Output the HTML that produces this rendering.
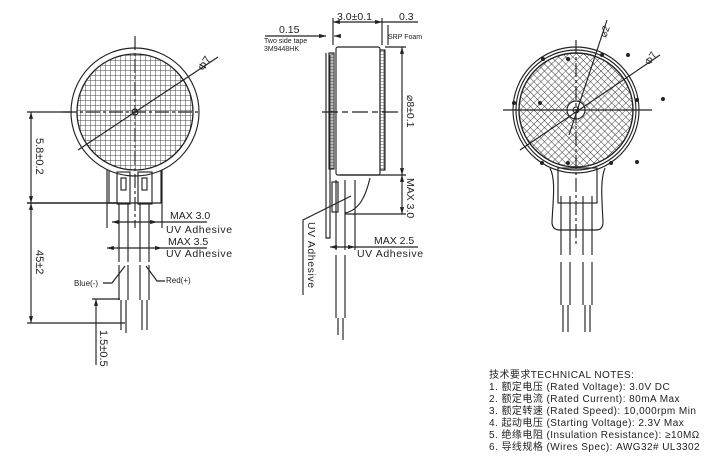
<!DOCTYPE html>
<html><head><meta charset="utf-8"><style>
html,body{margin:0;padding:0;background:#fff;}
svg{display:block;}
text{font-family:"Liberation Sans","Noto Sans CJK SC",sans-serif;fill:#222;}
</style></head><body>
<svg width="722" height="467" viewBox="0 0 722 467" xmlns="http://www.w3.org/2000/svg">
<defs>
<pattern id="grid" width="5" height="5" patternUnits="userSpaceOnUse" x="0" y="0">
<path d="M0 0H5M0 0V5" stroke="#444" stroke-width="1" fill="none"/>
</pattern>
<pattern id="xh" width="5" height="5" patternUnits="userSpaceOnUse" patternTransform="rotate(45)">
<path d="M0 0H5M0 0V5" stroke="#333" stroke-width="0.9" fill="none"/>
</pattern>
<pattern id="hs" width="4" height="3" patternUnits="userSpaceOnUse">
<path d="M0 0H4M0 0V3M4 0V3" stroke="#333" stroke-width="0.7" fill="none"/>
</pattern>
<marker id="a" viewBox="0 0 10 10" refX="10" refY="5" markerWidth="6" markerHeight="6" orient="auto-start-reverse"><path d="M0 2L10 5L0 8z" fill="#222"/></marker>
</defs>
<g stroke="#222" stroke-width="1.15" fill="none">
<!-- LEFT VIEW -->
<circle cx="135" cy="112" r="64"/>
<circle cx="135" cy="112" r="58" fill="url(#grid)" stroke-width="1.3"/>
<circle cx="135" cy="112" r="3"/>
<line x1="135" y1="36" x2="135" y2="228" stroke-dasharray="14 3 3 3"/>
<line x1="63" y1="112" x2="199" y2="112" stroke-dasharray="14 3 3 3"/>
<line x1="78" y1="150" x2="218" y2="57"/>
<path d="M107 170 V228 M162 170 V228" />
<path d="M109 171 V203 H161 V171"/>
<rect x="117" y="172" width="13" height="32"/>
<rect x="138" y="172" width="14" height="32"/>
<rect x="121" y="178" width="5" height="12"/>
<rect x="142" y="178" width="5" height="12"/>
<path d="M119 204 V262 M128 204 V262 M140 204 V262 M149 204 V262"/>
<path d="M119 265 V300 M128 265 V300 M140 265 V300 M149 265 V300"/>
<path d="M121 300 V330 M126 300 V333 M142 300 V330 M147 300 V330"/>
<!-- dims left -->
<line x1="31" y1="112" x2="31" y2="203" marker-start="url(#a)" marker-end="url(#a)"/>
<line x1="31" y1="203" x2="31" y2="323" marker-start="url(#a)" marker-end="url(#a)"/>
<line x1="27" y1="112" x2="72" y2="112"/>
<line x1="27" y1="203" x2="118" y2="203" stroke-width="1.4"/>
<line x1="27" y1="323" x2="125" y2="323"/>
<line x1="92" y1="299" x2="120" y2="299"/>
<line x1="96" y1="299" x2="96" y2="365" marker-start="url(#a)"/>
<line x1="112" y1="222" x2="157" y2="222" marker-start="url(#a)" marker-end="url(#a)"/>
<line x1="157" y1="222" x2="207" y2="222"/>
<line x1="107" y1="248" x2="162" y2="248" marker-start="url(#a)" marker-end="url(#a)"/>
<line x1="162" y1="248" x2="207" y2="248"/>
<path d="M103 283 H112 L125 266"/>
<path d="M165 281 H157 L146 266"/>
<!-- MIDDLE VIEW -->
<rect x="336" y="47" width="44" height="128" rx="2"/>
<rect x="380" y="50" width="5" height="120" fill="url(#hs)"/>
<rect x="329" y="53" width="5" height="116" fill="url(#hs)"/>
<path d="M326 53 V238 H330 V55"/>
<line x1="322" y1="112" x2="398" y2="112" stroke-dasharray="16 4 6 4"/>
<line x1="385" y1="47" x2="406" y2="47"/>
<line x1="340" y1="175" x2="406" y2="175"/>
<line x1="345" y1="214" x2="406" y2="214"/>
<line x1="402" y1="47" x2="402" y2="175" marker-start="url(#a)" marker-end="url(#a)"/>
<line x1="402" y1="175" x2="402" y2="214" marker-start="url(#a)" marker-end="url(#a)"/>
<path d="M370 178 C366 195 360 210 345 213"/>
<path d="M336 180 V250 M345 180 V250 M336 255 V318 M345 255 V318 M338 318 V335 M343 318 V340"/>
<rect x="332" y="182" width="6" height="30"/>
<line x1="330" y1="247" x2="355" y2="247" marker-start="url(#a)" marker-end="url(#a)"/>
<line x1="355" y1="247" x2="418" y2="247"/>
<line x1="355" y1="180" x2="355" y2="250"/>
<path d="M303 295 V220 L351 196"/>
<line x1="333" y1="22" x2="382" y2="22" marker-start="url(#a)" marker-end="url(#a)"/>
<line x1="382" y1="22" x2="418" y2="22"/>
<line x1="333" y1="18" x2="333" y2="45"/><line x1="382" y1="18" x2="382" y2="45"/>
<line x1="388" y1="25" x2="388" y2="45"/>
<line x1="265" y1="36" x2="326" y2="36"/>
<line x1="320" y1="36" x2="326" y2="36" marker-end="url(#a)"/>
<line x1="340" y1="36" x2="334" y2="36" marker-end="url(#a)"/>
<!-- RIGHT VIEW -->
<circle cx="576" cy="110" r="63"/>
<circle cx="576" cy="110" r="60"/>
<circle cx="576" cy="110" r="57" fill="url(#xh)" stroke-width="1.4"/>
<circle cx="576" cy="110" r="9" fill="#fff"/>
<circle cx="576" cy="110" r="3"/>
<line x1="576" y1="40" x2="576" y2="245" stroke-dasharray="14 3 3 3"/>
<line x1="503" y1="110" x2="652" y2="110"/>
<line x1="520" y1="150" x2="660" y2="55"/>
<line x1="569" y1="135" x2="607" y2="20"/>
<path d="M550 168 C556 180 553 200 552 222 Q552 230 560 230 H596 Q603 230 603 222 C602 200 600 180 605 168"/>
<rect x="558" y="168" width="39" height="35"/>
<path d="M561 196 V255 M570 196 V255 M583 196 V255 M592 196 V255"/>
<path d="M561 262 V305 M570 262 V305 M583 262 V305 M592 262 V305"/>
<path d="M563 305 V332 M568 305 V332 M585 305 V332 M590 305 V332"/>
</g>
<g fill="#222">
<circle cx="543" cy="59" r="2"/><circle cx="568" cy="59" r="2"/><circle cx="602" cy="55" r="2"/>
<circle cx="628" cy="55" r="2"/><circle cx="514" cy="103" r="2"/><circle cx="637" cy="100" r="2"/>
<circle cx="540" cy="103" r="2"/><circle cx="663" cy="99" r="2"/><circle cx="542" cy="163" r="2"/>
<circle cx="568" cy="163" r="2"/><circle cx="611" cy="163" r="2"/><circle cx="637" cy="162" r="2"/>
</g>
<!-- texts -->
<g font-size="10.5">
<text x="196" y="66" transform="rotate(-58 205 62)" font-size="11">Φ7</text>
<text x="0" y="0" transform="translate(36 138) rotate(90)" font-size="11">5.8±0.2</text>
<text x="0" y="0" transform="translate(36 250) rotate(90)" font-size="11">45±2</text>
<text x="0" y="0" transform="translate(100 330) rotate(90)" font-size="11">1.5±0.5</text>
<text x="170" y="219">MAX 3.0</text>
<text x="166" y="233" letter-spacing="0.6">UV Adhesive</text>
<text x="168" y="245">MAX 3.5</text>
<text x="166" y="257" letter-spacing="0.6">UV Adhesive</text>
<text x="74" y="286" font-size="8">Blue(-)</text>
<text x="166" y="283" font-size="8">Red(+)</text>
<text x="279" y="33">0.15</text>
<text x="264" y="43" font-size="7">Two side tape</text>
<text x="264" y="51" font-size="7">3M9448HK</text>
<text x="337" y="20">3.0±0.1</text>
<text x="399" y="20">0.3</text>
<text x="388" y="39" font-size="7">SRP Foam</text>
<text x="0" y="0" transform="translate(407 95) rotate(90)">⌀8±0.1</text>
<text x="0" y="0" transform="translate(407 178) rotate(90)">MAX 3.0</text>
<text x="374" y="244">MAX 2.5</text>
<text x="357" y="257" letter-spacing="0.6">UV Adhesive</text>
<text x="0" y="0" transform="translate(308 222) rotate(90)" letter-spacing="0.6">UV Adhesive</text>
<text x="0" y="0" transform="translate(606 38) rotate(-70)" font-size="10">⌀2</text>
<text x="0" y="0" transform="translate(650 66) rotate(-58)" font-size="10">Φ7</text>
</g>
<g font-size="10" letter-spacing="0.45">
<text x="489" y="378">技术要求TECHNICAL NOTES:</text>
<text x="489" y="390">1. 额定电压 (Rated Voltage): 3.0V DC</text>
<text x="489" y="402">2. 额定电流 (Rated Current): 80mA Max</text>
<text x="489" y="414">3. 额定转速 (Rated Speed): 10,000rpm Min</text>
<text x="489" y="426">4. 起动电压 (Starting Voltage): 2.3V Max</text>
<text x="489" y="438">5. 绝缘电阻 (Insulation Resistance): ≥10MΩ</text>
<text x="489" y="450">6. 导线规格 (Wires Spec):  AWG32# UL3302</text>
</g>
</svg>
</body></html>
